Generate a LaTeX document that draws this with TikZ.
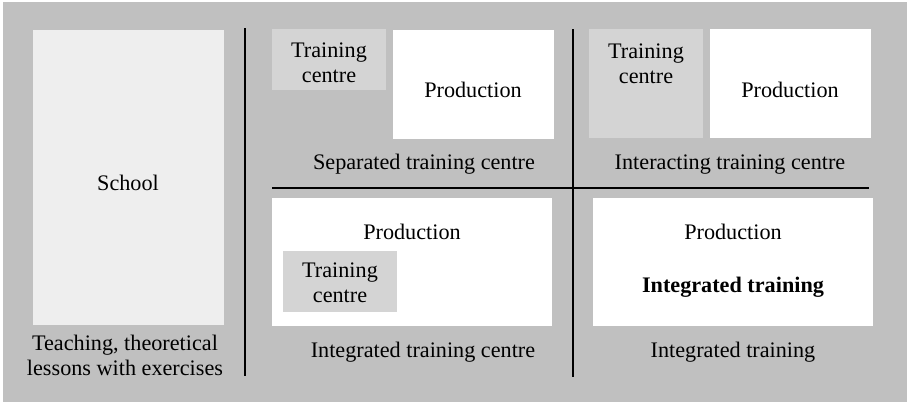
\documentclass[tikz,border=0pt]{standalone}
\usepackage{fontspec}
\setmainfont{Liberation Serif}
\definecolor{bggray}{HTML}{C0C0C0}
\definecolor{schoolgray}{HTML}{EEEEEE}
\definecolor{traingray}{HTML}{D4D4D4}
\begin{document}
\begin{tikzpicture}[x=1pt,y=-1pt,
  panel/.style={draw=none,inner sep=0pt,outer sep=0pt,anchor=north west},
  txt/.style={inner sep=0pt,anchor=base,align=center,font=\fontsize{22.2}{25}\selectfont},
  divider/.style={line width=2pt,black}]
\useasboundingbox (0,0) rectangle (907,402);
\fill[white] (0,0) rectangle (907,402);
\fill[bggray] (3,2) rectangle (907,402);
% School
\node[panel,fill=schoolgray,minimum width=191pt,minimum height=295pt] (school) at (33,30) {};
\node[txt] (schooltxt) at (128,190) {School};
\node[txt] (schoolcap) at (125,375) {Teaching, theoretical\\lessons with exercises};
% dividers
\coordinate (v1a) at (245,28); \coordinate (v1b) at (245,376);
\coordinate (v2a) at (573,29); \coordinate (v2b) at (573,377);
\coordinate (ha) at (272,188); \coordinate (hb) at (869,188);
\draw[divider] (v1a) -- (v1b);
\draw[divider] (v2a) -- (v2b);
\draw[divider] (ha) -- (hb);
% Separated training centre
\node[panel,fill=traingray,minimum width=114pt,minimum height=61pt] (sep-tc) at (272,29) {};
\node[panel,fill=white,minimum width=161pt,minimum height=109pt] (sep-pr) at (393,30) {};
\node[txt] (sep-tctxt) at (329,82) {Training\\centre};
\node[txt] (sep-prtxt) at (473,97) {Production};
\node[txt] (sep-cap) at (424,169) {Separated training centre};
% Interacting training centre
\node[panel,fill=traingray,minimum width=114pt,minimum height=109pt] (int-tc) at (589,29) {};
\node[panel,fill=white,minimum width=161pt,minimum height=109pt] (int-pr) at (710,29) {};
\node[txt] (int-tctxt) at (646,83) {Training\\centre};
\node[txt] (int-prtxt) at (790,97) {Production};
\node[txt] (int-cap) at (730,169) {Interacting training centre};
% Integrated training centre
\node[panel,fill=white,minimum width=280pt,minimum height=128pt] (itc-pr) at (272,198) {};
\node[panel,fill=traingray,minimum width=114pt,minimum height=61pt] (itc-tc) at (283,251) {};
\node[txt] (itc-prtxt) at (412,239) {Production};
\node[txt] (itc-tctxt) at (340,302) {Training\\centre};
\node[txt] (itc-cap) at (423,357) {Integrated training centre};
% Integrated training
\node[panel,fill=white,minimum width=280pt,minimum height=128pt] (it-pr) at (593,198) {};
\node[txt] (it-prtxt) at (733,239) {Production};
\node[txt,font=\fontsize{22.2}{25}\selectfont\bfseries] (it-bold) at (733,292) {Integrated training};
\node[txt] (it-cap) at (733,357) {Integrated training};
\end{tikzpicture}
\end{document}
